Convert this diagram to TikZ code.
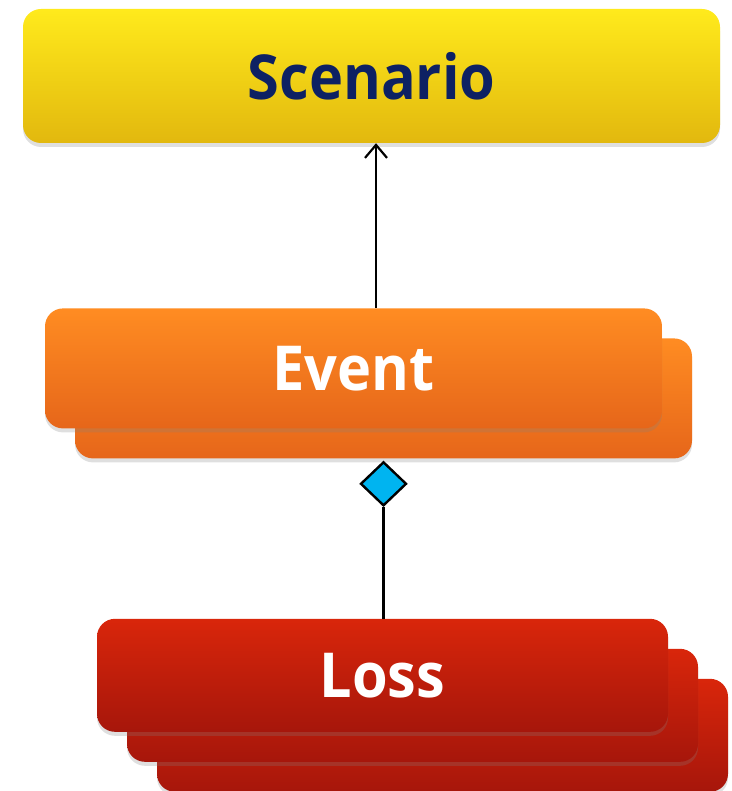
\documentclass[tikz,border=0pt]{standalone}
\usepackage{fontspec}
\setmainfont{Open Sans}
\newfontfamily\boxfont[FakeStretch=0.93]{Open Sans}
\usepackage{tikz}
\usetikzlibrary{shapes.geometric, arrows.meta, positioning, shadows}
\definecolor{scenTop}{HTML}{FFEA1C}
\definecolor{scenBot}{HTML}{E2B80E}
\definecolor{evTop}{HTML}{FF8C22}
\definecolor{evBot}{HTML}{E6661A}
\definecolor{lossTop}{HTML}{D9260B}
\definecolor{lossBot}{HTML}{A6160B}
\definecolor{navy}{HTML}{0D2163}
\definecolor{aggcyan}{HTML}{00B4F0}
\tikzstyle{box} = [rectangle, rounded corners=18pt,
inner sep=0pt,
text centered,
font=\boxfont\fontsize{62}{62}\selectfont\bfseries,
drop shadow={shadow xshift=0pt, shadow yshift=-4pt, opacity=0.25}]
\tikzstyle{scenbox} = [box, minimum width=697pt, minimum height=134pt,
top color=scenTop, bottom color=scenBot, text=navy]
\tikzstyle{eventbox} = [box, minimum width=617pt, minimum height=120pt,
top color=evTop, bottom color=evBot, text=white]
\tikzstyle{lossbox} = [box, minimum width=571pt, minimum height=113pt,
top color=lossTop, bottom color=lossBot, text=white]
\tikzstyle{aggr} = [diamond, draw=black, line width=2.4pt, fill=aggcyan,
inner sep=0pt, minimum width=46pt, minimum height=44pt]
\tikzstyle{arrow} = [line width=2.2pt, -{Straight Barb[length=13pt, width=22pt, line width=2.2pt]}]

\begin{document}
\begin{tikzpicture}[x=1pt, y=1pt]
        \useasboundingbox (0,0) rectangle (731,-791);

        \node (scenario) [scenbox] at (371.5,-76) {Scenario};
        \node (eventback) [eventbox, below=195pt of scenario, xshift=12pt] {};
        \node (event) [eventbox] at ([xshift=-30pt, yshift=30pt]eventback) {Event};
        \node (agg) [aggr, below=2pt of eventback] {};
        \node (loss3) [lossbox, below=220pt of eventback, xshift=59pt] {};
        \node (loss2) [lossbox] at ([xshift=-30pt, yshift=30pt]loss3) {};
        \node (loss) [lossbox] at ([xshift=-30pt, yshift=30pt]loss2) {Loss};

        \draw [arrow] ([xshift=22.5pt]event.north) -- ([xshift=22.5pt]event.north |- scenario.south);
        \draw [line width=2.2pt] (agg.south) -- (agg.south |- loss.north);

    \end{tikzpicture}
\end{document}
